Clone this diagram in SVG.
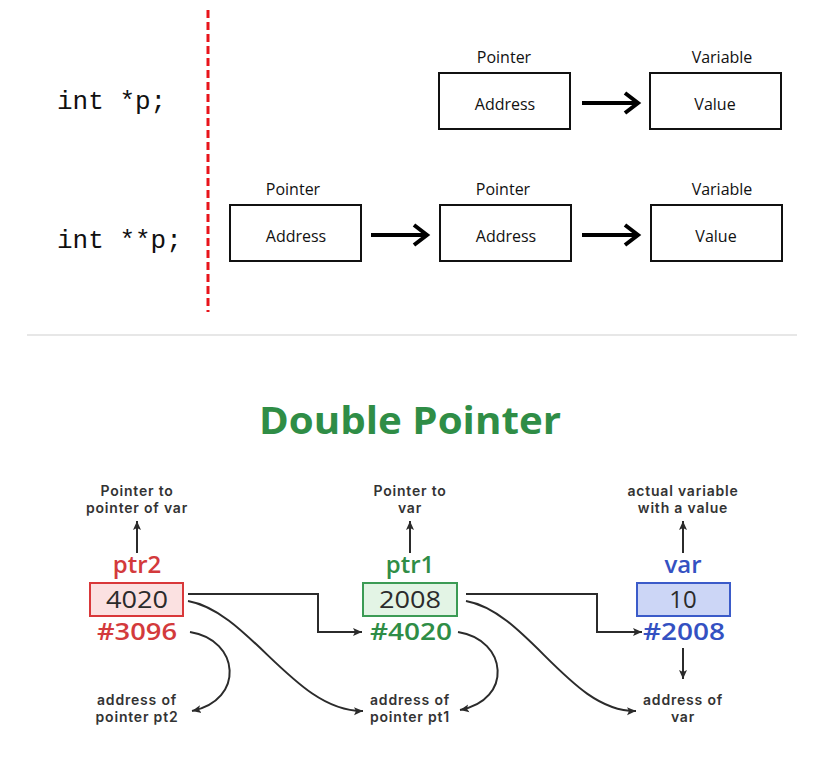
<svg xmlns="http://www.w3.org/2000/svg" width="838" height="778" viewBox="0 0 838 778">
<defs>
<style>
.code{font-family:"Liberation Mono","DejaVu Sans Mono",monospace;font-size:26px;fill:#111}
.box{fill:#fff;stroke:#111;stroke-width:2}
.cap{font-family:"Open Sans","Liberation Sans",sans-serif;font-size:16px;fill:#111;text-anchor:middle}
.thick{fill:none;stroke:#000;stroke-width:4;stroke-linecap:butt}
.head{fill:none;stroke:#000;stroke-width:4;stroke-linejoin:miter}
.lbl{font-family:Inter,"Open Sans",sans-serif;font-weight:600;font-size:14px;letter-spacing:0.8px;fill:#333;text-anchor:middle}
.big{font-family:"Open Sans","Noto Sans",sans-serif;font-weight:600;font-size:24px;text-anchor:middle}
.num{font-family:"Open Sans","Noto Sans",sans-serif;font-weight:500;font-size:24px;fill:#2b2b2b;text-anchor:middle}
.con{fill:none;stroke:#2b2b2b;stroke-width:2}
</style>
<marker id="ah" markerWidth="10" markerHeight="10" refX="9" refY="5" orient="auto" markerUnits="userSpaceOnUse">
<path d="M0,1 L9,5 L0,9 L2,5 Z" fill="#2b2b2b"/>
</marker>
</defs>
<rect width="838" height="778" fill="#fff"/>

<g id="top-section">
<line x1="208" y1="10" x2="208" y2="312" stroke="#e8141b" stroke-width="3" stroke-dasharray="8,4"/>
<text class="code" x="57" y="109">int *p;</text>
<text class="code" x="57" y="248">int **p;</text>
</g>

<g id="row1-pointer">
<text class="cap" x="504" y="63">Pointer</text>
<rect class="box" x="439" y="73" width="131" height="56"/>
<text class="cap" x="505" y="110">Address</text>
</g>
<g id="row1-variable">
<text class="cap" x="722" y="63">Variable</text>
<rect class="box" x="650" y="73" width="131" height="56"/>
<text class="cap" x="715" y="110">Value</text>
</g>
<g id="row2-pointer1">
<text class="cap" x="293" y="195">Pointer</text>
<rect class="box" x="230" y="205" width="131" height="56"/>
<text class="cap" x="296" y="242">Address</text>
</g>
<g id="row2-pointer2">
<text class="cap" x="503" y="195">Pointer</text>
<rect class="box" x="440" y="205" width="131" height="56"/>
<text class="cap" x="506" y="242">Address</text>
</g>
<g id="row2-variable">
<text class="cap" x="722" y="195">Variable</text>
<rect class="box" x="651" y="205" width="131" height="56"/>
<text class="cap" x="716" y="242">Value</text>
</g>

<g id="top-connectors">
<line class="thick" x1="582" y1="103" x2="637" y2="103"/>
<path class="head" d="M625,93 L638,103 L625,113"/>
<line class="thick" x1="371" y1="235" x2="426" y2="235"/>
<path class="head" d="M414,225 L427,235 L414,245"/>
<line class="thick" x1="582" y1="235" x2="637" y2="235"/>
<path class="head" d="M625,225 L638,235 L625,245"/>
</g>

<line x1="27" y1="335" x2="797" y2="335" stroke="#cfcfcf" stroke-width="1"/>

<text x="410" y="434" text-anchor="middle" font-family="'Open Sans','Noto Sans',sans-serif" font-weight="700" font-size="37" fill="#2f8d46" textLength="302" lengthAdjust="spacingAndGlyphs">Double Pointer</text>

<g id="ptr2">
<text class="lbl"><tspan x="137" y="496">Pointer to</tspan><tspan x="137" y="513">pointer of var</tspan></text>
<text class="big" x="137" y="573" fill="#d33a3c">ptr2</text>
<rect x="90" y="583" width="93" height="33" fill="#fbe1e1" stroke="#d9383a" stroke-width="2"/>
<text class="num" x="137" y="608" textLength="62" lengthAdjust="spacingAndGlyphs">4020</text>
<text class="big" x="137" y="640" fill="#d33a3c" textLength="80" lengthAdjust="spacingAndGlyphs">#3096</text>
<text class="lbl"><tspan x="137" y="705">address of</tspan><tspan x="137" y="722">pointer pt2</tspan></text>
</g>

<g id="ptr1">
<text class="lbl"><tspan x="410" y="496">Pointer to</tspan><tspan x="410" y="513">var</tspan></text>
<text class="big" x="410" y="573" fill="#2f8d46">ptr1</text>
<rect x="363" y="583" width="94" height="33" fill="#e3f4e5" stroke="#3c9b55" stroke-width="2"/>
<text class="num" x="410" y="608" textLength="62" lengthAdjust="spacingAndGlyphs">2008</text>
<text class="big" x="411" y="640" fill="#2f8d46" textLength="82" lengthAdjust="spacingAndGlyphs">#4020</text>
<text class="lbl"><tspan x="410" y="705">address of</tspan><tspan x="410" y="722">pointer pt1</tspan></text>
</g>

<g id="var">
<text class="lbl"><tspan x="683" y="496">actual variable</tspan><tspan x="683" y="513">with a value</tspan></text>
<text class="big" x="683" y="573" fill="#3451c2">var</text>
<rect x="637" y="583" width="93" height="33" fill="#ccd6f6" stroke="#3b5bc9" stroke-width="2"/>
<text class="num" x="683" y="608">10</text>
<text class="big" x="684" y="640" fill="#3451c2" textLength="82" lengthAdjust="spacingAndGlyphs">#2008</text>
<text class="lbl"><tspan x="683" y="705">address of</tspan><tspan x="683" y="722">var</tspan></text>
</g>

<g id="connectors">
<line class="con" x1="137" y1="553" x2="137" y2="521" marker-end="url(#ah)"/>
<line class="con" x1="410" y1="553" x2="410" y2="521" marker-end="url(#ah)"/>
<line class="con" x1="683" y1="553" x2="683" y2="521" marker-end="url(#ah)"/>
<line class="con" x1="683" y1="648" x2="683" y2="679" marker-end="url(#ah)"/>
<path class="con" d="M188,594 H318 V632 H362" marker-end="url(#ah)"/>
<path class="con" d="M466,594 H597 V632 H642" marker-end="url(#ah)"/>
<path class="con" d="M188,601 C250,612 295,712 363,711" marker-end="url(#ah)"/>
<path class="con" d="M466,601 C528,612 570,712 636,711" marker-end="url(#ah)"/>
<path class="con" d="M190,632 C240,640 245,700 192,711" marker-end="url(#ah)"/>
<path class="con" d="M458,632 C508,640 513,700 460,710" marker-end="url(#ah)"/>
</g>
</svg>
